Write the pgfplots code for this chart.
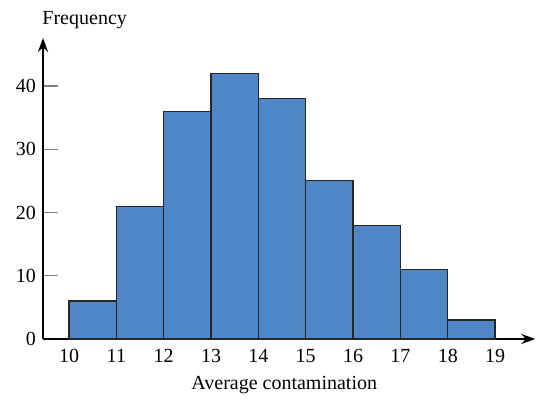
\documentclass[border=0pt]{standalone}
\usepackage{fontspec}
\setmainfont{Liberation Serif}
\usepackage{pgfplots}
\pgfplotsset{compat=1.18}
\usetikzlibrary{arrows.meta}
\definecolor{barblue}{RGB}{79,134,198}

\begin{document}
\begin{tikzpicture}
\begin{axis}[
  x=23.67pt, y=3.1625pt,
  xmin=9.45, xmax=19.85, ymin=0, ymax=47.6,
  axis lines=left,
  axis line style={line width=1.4pt, -{Stealth[length=7pt,width=5pt]}},
  xtick={10,...,19}, ytick={0,10,...,40},
  xtick style={draw=none},
  ytick style={line width=0.6pt},
  ytick align=inside,
  major tick length=7.5pt,
  /pgf/number format/assume math mode=true,
  xticklabel style={anchor=north, yshift=2pt},
  xlabel={Average contamination},
  xlabel style={at={(axis description cs:0.49,0)}, anchor=base, yshift=-25.5pt},
  ylabel={Frequency},
  ylabel style={rotate=-90, at={(axis description cs:0,1)}, anchor=base west, yshift=6.5pt, xshift=-3.8pt},
  clip=false,
]
\addplot[ybar interval, fill=barblue, draw=black!85, line width=0.6pt] coordinates {
  (10,6) (11,21) (12,36) (13,42) (14,38) (15,25) (16,18) (17,11) (18,3) (19,3)
};
\end{axis}
\pgfresetboundingbox
\path[use as bounding box] (-21.5pt,-30.5pt) rectangle (247pt,169.5pt);
\end{tikzpicture}
\end{document}
